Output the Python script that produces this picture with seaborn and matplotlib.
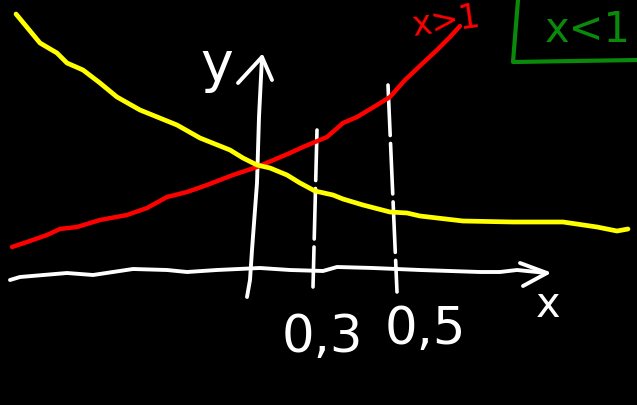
import numpy as np
import pandas as pd
import matplotlib
matplotlib.use("Agg")
import matplotlib.pyplot as plt
import seaborn as sns

# Board coordinates: x grows to the right, y grows downward (screen-like canvas)
# Rising curve (base greater than 1)
red_x = [12, 27, 47, 60, 77, 100, 127, 147, 167, 187, 207, 233, 257, 290, 303, 327, 343, 357, 377, 390, 405, 423, 437, 450, 460]
red_y = [247, 242, 235, 229, 227, 220, 215, 208, 197, 192, 185, 175, 167, 153, 147, 137, 123, 117, 105, 97, 80, 63, 50, 37, 26]

# Falling curve (base less than 1)
yellow_x = [16, 40, 57, 67, 83, 100, 117, 140, 177, 200, 230, 243, 257, 270, 287, 300, 315, 333, 343, 363, 390, 407, 420, 463, 513, 563, 597, 617, 628]
yellow_y = [14, 43, 53, 63, 70, 83, 97, 110, 125, 138, 150, 158, 165, 168, 175, 183, 191, 195, 199, 205, 212, 213, 216, 221, 222, 222, 227, 231, 229]

# Horizontal axis stroke and its arrow head
xaxis_x = [10, 20, 67, 93, 133, 167, 187, 217, 260, 290, 323, 337, 373, 420, 480, 500, 517, 547]
xaxis_y = [280, 277, 273, 275, 269, 270, 272, 270, 268, 270, 271, 267, 268, 270, 272, 272, 270, 273]
xarrow_x = [520, 547, 523]
xarrow_y = [263, 273, 286]

# Vertical axis stroke and its arrow head
yaxis_x = [247, 250, 252, 257, 259, 262]
yaxis_y = [297, 280, 250, 183, 117, 57]
yarrow_x = [238, 262, 272]
yarrow_y = [83, 57, 80]

# Dashed guides at the two marked x values
guide1_x = [317, 313]
guide1_y = [130, 287]
guide2_x = [388, 397]
guide2_y = [85, 292]

# Corner box around the second caption
box_x = [518, 513, 637]
box_y = [0, 62, 60]

tick_labels = ["0,3", "0,5"]
tick_pos_x = [322, 425]
tick_pos_y = [338, 330]

sns.set_theme(style="dark")
plt.rcParams["font.family"] = ["DejaVu Sans"]

fig = plt.figure(figsize=(6.37, 4.05), dpi=100)
fig.patch.set_facecolor("black")
ax = fig.add_axes([0, 0, 1, 1])
ax.set_facecolor("black")
ax.set_xlim(0, 637)
ax.set_ylim(405, 0)
ax.axis("off")

def draw(xs, ys, color, lw):
    df = pd.DataFrame({"x": xs, "y": ys})
    sns.lineplot(data=df, x="x", y="y", sort=False, estimator=None,
                 color=color, linewidth=lw, ax=ax)

draw(xaxis_x, xaxis_y, "white", 2.8)
draw(xarrow_x, xarrow_y, "white", 2.8)
draw(yaxis_x, yaxis_y, "white", 2.8)
draw(yarrow_x, yarrow_y, "white", 2.8)

for gx, gy in ((guide1_x, guide1_y), (guide2_x, guide2_y)):
    ax.plot(gx, gy, color="white", linewidth=2.6, dashes=(14, 2.2),
            dash_capstyle="round")

draw(red_x, red_y, "#ff0000", 3.2)
draw(yellow_x, yellow_y, "#ffff00", 3.4)
draw(box_x, box_y, "#0a8a0a", 3.0)

for line in ax.get_lines():
    line.set_solid_capstyle("round")
    line.set_solid_joinstyle("round")

for lab, tx, ty in zip(tick_labels, tick_pos_x, tick_pos_y):
    ax.text(tx, ty, lab, color="white", fontsize=37, ha="center", va="center")

ax.text(548, 305, "x", color="white", fontsize=30, ha="center", va="center")
ax.text(217, 66, "y", color="white", fontsize=40, ha="center", va="center")
ax.text(588, 30, "x<1", color="#0a8a0a", fontsize=30, ha="center", va="center")
ax.text(446, 22, "x>1", color="#ff0000", fontsize=24, ha="center", va="center",
        rotation=8)

fig.savefig("out.png", dpi=100, facecolor="black")
